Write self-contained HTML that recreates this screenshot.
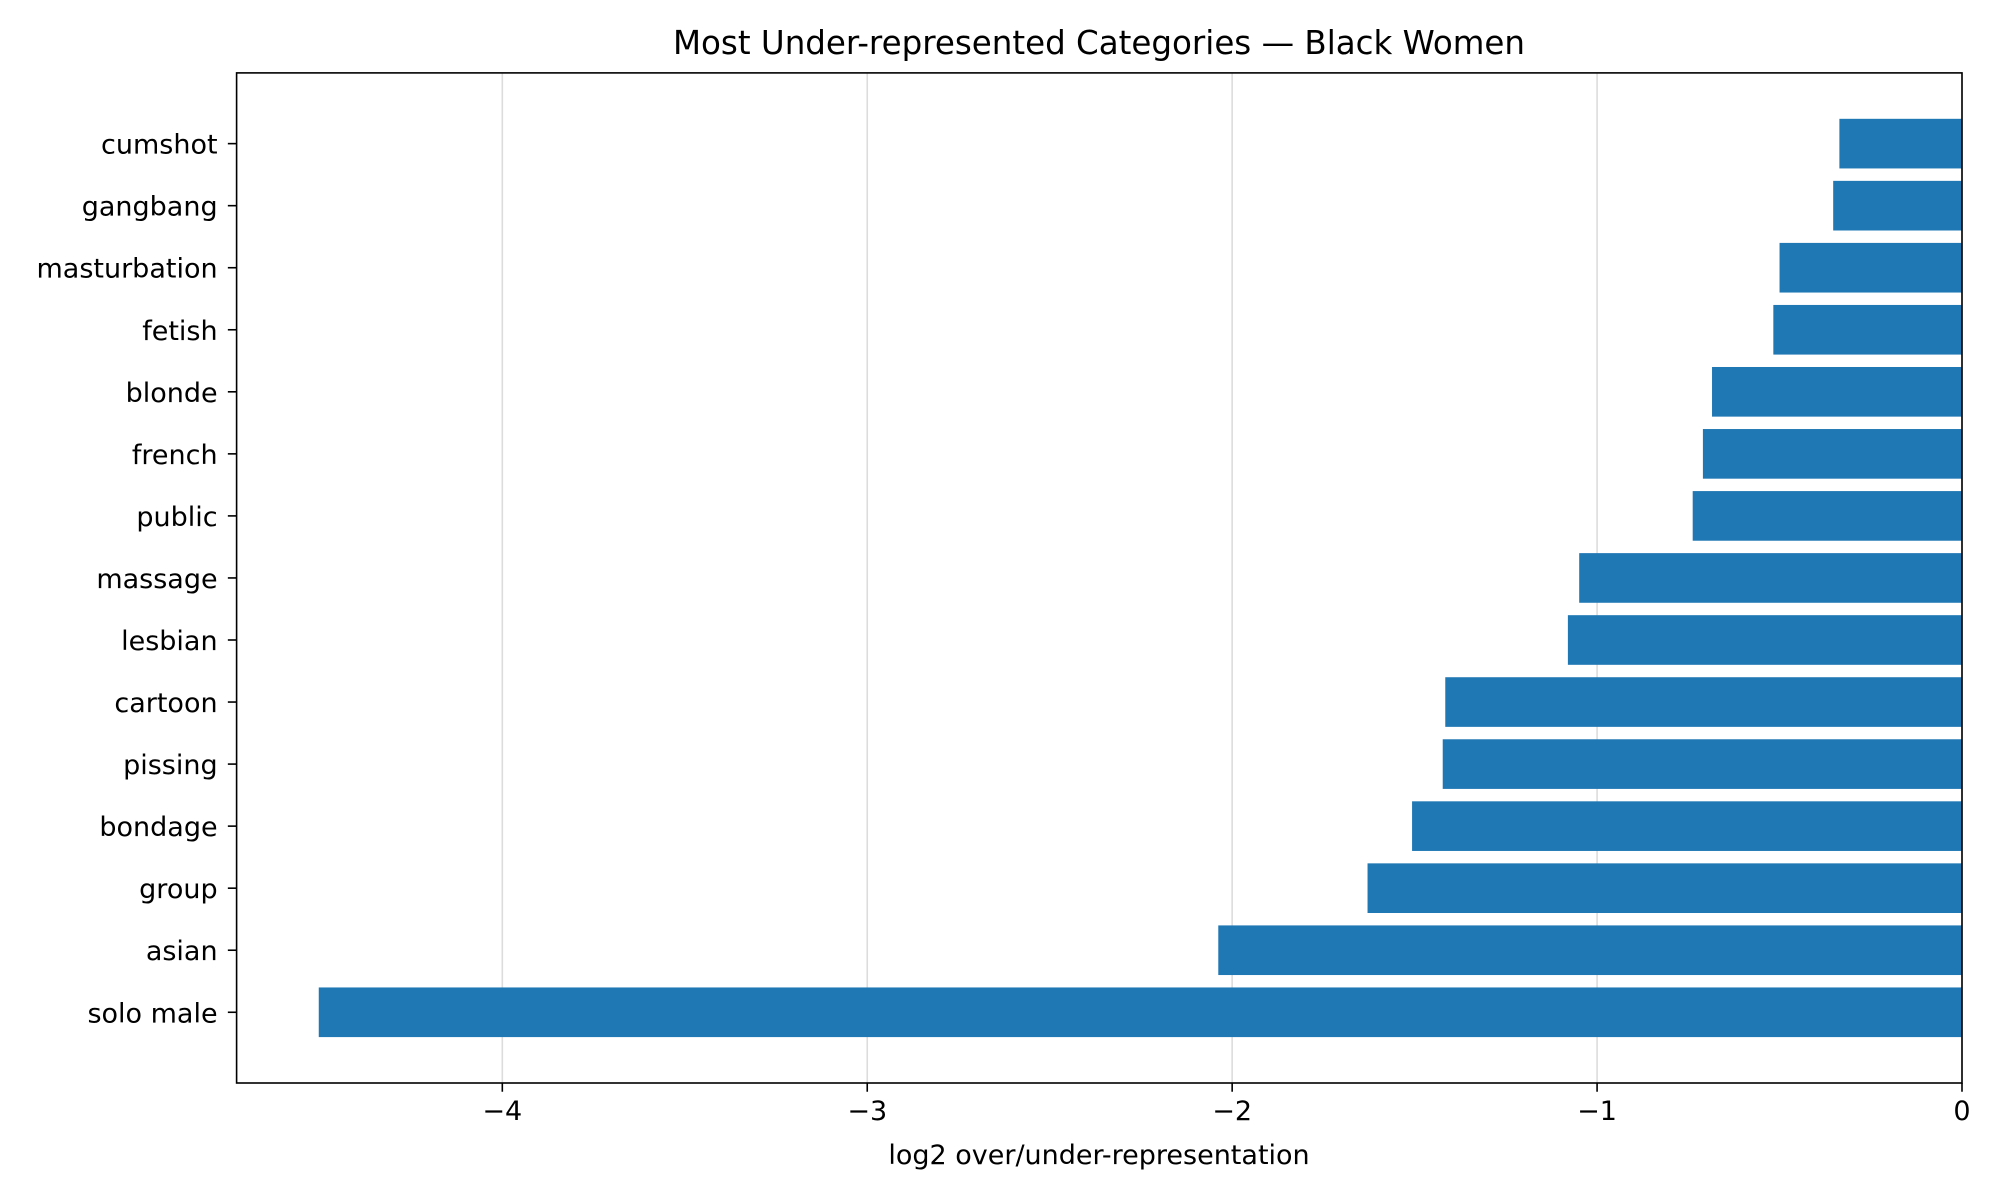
<!DOCTYPE html>
<html>
<head>
<meta charset="utf-8">
<style>
  html, body { margin: 0; padding: 0; background: #fff; }
  svg { display: block; font-family: "DejaVu Sans", "Liberation Sans", sans-serif; }
</style>
</head>
<body>
<svg id="chart" width="2000" height="1200" viewBox="0 0 2000 1200" xmlns="http://www.w3.org/2000/svg">
  <rect x="0" y="0" width="2000" height="1200" fill="#ffffff"/>
  <g id="grid"></g>
  <g id="bars"></g>
  <g id="axes"></g>
  <text x="1099" y="54" font-size="32.5" text-anchor="middle" fill="#000">Most Under-represented Categories — Black Women</text>
  <text x="1099" y="1164" font-size="27" text-anchor="middle" fill="#000">log2 over/under-representation</text>
</svg>
<script>
const categories = ["cumshot","gangbang","masturbation","fetish","blonde","french","public","massage","lesbian","cartoon","pissing","bondage","group","asian","solo male"];
const values = [-0.336,-0.353,-0.50,-0.517,-0.685,-0.71,-0.738,-1.049,-1.08,-1.416,-1.423,-1.507,-1.629,-2.038,-4.503];
const xTicks = [-4,-3,-2,-1,0];
const xTickLabels = ["\u22124","\u22123","\u22122","\u22121","0"];

const NS = "http://www.w3.org/2000/svg";
const L = 236.6, R = 1962, T = 72.9, B = 1083;
const n = categories.length;
const minV = Math.min(0, ...values);
const span = 0 - minV;
const xMin = minV - span * 0.05, xMax = 0;
function xs(v) { return L + (v - xMin) / (xMax - xMin) * (R - L); }
const yLo = -0.4 - (n - 0.2) * 0.05, yHi = (n - 1) + 0.4 + (n - 0.2) * 0.05;
function ys(pos) { return B - (pos - yLo) / (yHi - yLo) * (B - T); }
const unit = (B - T) / (yHi - yLo);

function mk(tag, attrs, parent) {
  const e = document.createElementNS(NS, tag);
  for (const k in attrs) e.setAttribute(k, attrs[k]);
  parent.appendChild(e);
  return e;
}
const grid = document.getElementById('grid');
const bars = document.getElementById('bars');
const axes = document.getElementById('axes');

xTicks.forEach((t, i) => {
  const x = xs(t);
  const g = mk('line', {x1: x, x2: x, y1: T, y2: B, stroke: '#dcdcdc', 'stroke-width': 1.6}, grid);
  
  
  const tk = mk('line', {x1: x, x2: x, y1: B, y2: B + 8.75, stroke: '#000', 'stroke-width': 1.6}, axes);
  
  
  const lb = mk('text', {x: x, y: B + 37, 'font-size': 27, 'text-anchor': 'middle', fill: '#000'}, axes);
  lb.textContent = xTickLabels[i];
  
  
});

categories.forEach((c, i) => {
  const pos = n - 1 - i;
  const yc = ys(pos);
  const h = 0.8 * unit;
  const x0 = xs(Math.min(0, values[i])), x1 = xs(Math.max(0, values[i]));
  const r = mk('rect', {x: x0, y: yc - h / 2, width: x1 - x0, height: h, fill: '#1f77b4'}, bars);
  
  
  const tk = mk('line', {x1: L - 8.75, x2: L, y1: yc, y2: yc, stroke: '#000', 'stroke-width': 1.6}, axes);
  
  
  const lb = mk('text', {x: L - 19, y: yc + 10, 'font-size': 27, 'text-anchor': 'end', fill: '#000'}, axes);
  lb.textContent = c;
  
  
});

const frame = mk('rect', {x: L, y: T, width: R - L, height: B - T, fill: 'none', stroke: '#000', 'stroke-width': 1.6}, axes);


</script>
</body>
</html>
